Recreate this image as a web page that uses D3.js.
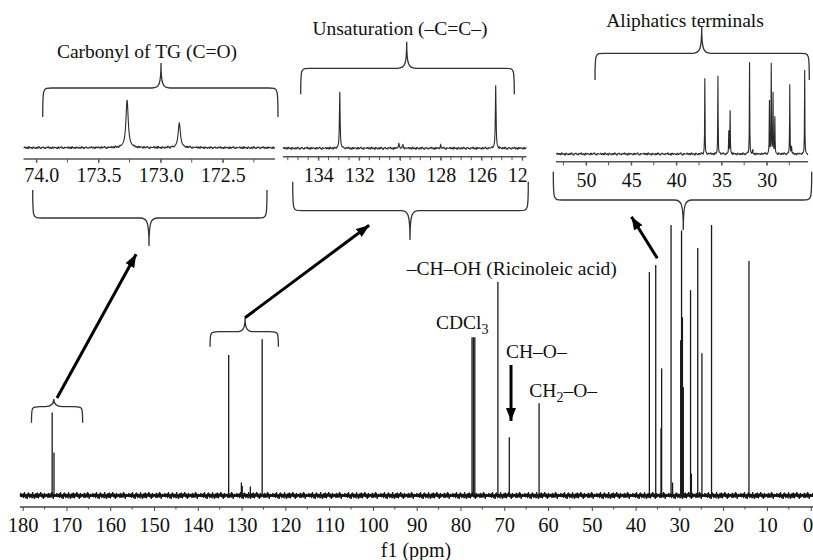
<!DOCTYPE html>
<html><head><meta charset="utf-8">
<script src="https://cdn.jsdelivr.net/npm/d3@7"></script>
<style>
body{margin:0;background:#fff}
svg text{font-family:'Liberation Serif','Times New Roman',Times,'DejaVu Serif',serif !important;fill:#111}
</style>
</head><body>
<svg id="c" width="813" height="560"></svg>
<script>
// ---------------- DATA ----------------
const peakPpm = [173.27,172.85,132.95,130.05,129.85,128.0,125.3,77.36,77.04,76.72,71.45,68.85,62.05,
  36.85,35.4,34.2,34.05,31.9,31.55,29.7,29.5,29.3,29.1,27.45,27.25,25.8,24.85,22.65,14.1];
const peakIntensity = [30.7,15.9,51.9,4.8,3.5,3.3,57.8,58.5,58.5,58.5,78.9,21.5,34.1,
  82.6,85.2,24.8,47,100,4.8,57.4,98,65.9,40,75.9,8.1,91.5,52.6,100,86.7];
const mainTickLabels = [180,170,160,150,140,130,120,110,100,90,80,70,60,50,40,30,20,10,0];
const insetTitles = ["Carbonyl of TG (C=O)", "Unsaturation (\u2013C=C\u2013)", "Aliphatics terminals"];
const insetDomains = [[174.105,172.08],[135.75,123.78],[53.32,25.4]];
const inset1TickLabels = [174.0,173.5,173.0,172.5];
const inset2TickLabels = [134,132,130,128,126,124];
const inset3TickLabels = [50,45,40,35,30];
const insetMinorStep = [0.25,0.5,2.5];
const xLabel = "f1 (ppm)";

// ---------------- LAYOUT / STYLE ----------------
const svg = d3.select("#c");
const FONT = "'Liberation Serif','Times New Roman',Times,'DejaVu Serif',serif";
const x = d3.scaleLinear().domain([180,0]).range([22.7,810.7]);
const y = d3.scaleLinear().domain([0,100]).range([495.5,225]);
const axisY = 507;

const defs = svg.append("defs");
// baseline-noise texture (pixel offsets, style only)
const noiseTexture = [0,-3,2,-2,3,-4,1,-1,4,-3,0,3,-2,2,-4,0,4,-1,-3,1,3,-2,0,-4,2,-1,4,-3,1,-2,0,3,-3,2,-1,-4,1,4,-2,0];
const nT = noiseTexture.length;

const mk = defs.append("marker").attr("id","ah").attr("markerUnits","userSpaceOnUse")
  .attr("viewBox","0 -5 13 10").attr("refX",13).attr("refY",0)
  .attr("markerWidth",13).attr("markerHeight",10).attr("orient","auto");
mk.append("path").attr("d","M0,-5L13,0L0,5Z").attr("fill","#000");

// ---------------- MAIN SPECTRUM ----------------
const noiseX = d3.range(20, 813, 0.9);
svg.append("path").attr("fill","none").attr("stroke","#111").attr("stroke-width",1)
  .attr("d", d3.line().x(d=>d).y((d,i)=>y(0)+noiseTexture[i%nT]*0.85)(noiseX));
svg.append("path").attr("fill","none").attr("stroke","#111").attr("stroke-width",1)
  .attr("d", d3.line().x(d=>d+0.45).y((d,i)=>y(0)-noiseTexture[(i*7+3)%nT]*0.7)(noiseX));
svg.append("line").attr("x1",20).attr("x2",813).attr("y1",y(0)).attr("y2",y(0))
  .attr("stroke","#111").attr("stroke-width",2.6);
svg.append("g").selectAll("line").data(peakPpm).join("line")
  .attr("x1",d=>x(d)).attr("x2",d=>x(d))
  .attr("y1",y(0)).attr("y2",(d,i)=>y(peakIntensity[i]))
  .attr("stroke","#1a1a1a").attr("stroke-width",1.3);

// main axis
svg.append("line").attr("x1",20).attr("x2",813).attr("y1",axisY).attr("y2",axisY)
  .attr("stroke","#444").attr("stroke-width",1.3);
const gx = svg.append("g").attr("transform",`translate(0,${axisY})`)
  .call(d3.axisBottom(x).tickValues(mainTickLabels).tickSize(4).tickSizeOuter(0).tickPadding(6).tickFormat(d3.format("d")));
gx.select(".domain").remove();
gx.attr("font-family",FONT);
gx.selectAll("line").attr("stroke","#444");
gx.selectAll("text").attr("font-size",20.5).attr("fill","#111")
  .attr("dx",d=>d===0?-3:0);
svg.append("g").attr("transform",`translate(0,${axisY})`).selectAll("line")
  .data(d3.range(5,180,10)).join("line")
  .attr("x1",d=>x(d)).attr("x2",d=>x(d)).attr("y1",0).attr("y2",2.5).attr("stroke","#444");
svg.append("text").attr("x",416).attr("y",556.5).attr("text-anchor","middle")
  .attr("font-size",20).text(xLabel);

// ---------------- INSETS ----------------
const insetLayout = [
  {r:[23.3,275], axisY:159, base:147.7, H:155.4, hw:0.011, pad:5, fmt:".1f", labels:inset1TickLabels},
  {r:[282.7,526.7], axisY:156.7, base:148.3, H:109, hw:0.02, pad:7, fmt:"d", labels:inset2TickLabels},
  {r:[556,808.3], axisY:161.7, base:154, H:91.7, hw:0.022, pad:7, fmt:"d", labels:inset3TickLabels}
];
insetLayout.forEach((L,k)=>{
  const dom = insetDomains[k];
  const ix = d3.scaleLinear().domain(dom).range(L.r);
  const iy = d3.scaleLinear().domain([0,100]).range([L.base, L.base - L.H]);
  const cid = "clip"+k;
  defs.append("clipPath").attr("id",cid).append("rect")
    .attr("x",L.r[0]).attr("y",0).attr("width",L.r[1]-L.r[0]).attr("height",200);
  const g = svg.append("g").attr("clip-path",`url(#${cid})`);
  let pts = d3.range(0,701).map(i => dom[0] + (dom[1]-dom[0])*i/700);
  peakPpm.forEach(p=>{ if (p<=dom[0] && p>=dom[1]) { pts.push(p); } });
  pts.sort((a,b)=>b-a);
  const spec = pts.map(p => {
    let s = 0;
    peakPpm.forEach((q,i)=>{ const d=p-q; s += peakIntensity[i]*L.hw*L.hw/(d*d+L.hw*L.hw); });
    return [p, s];
  });
  g.append("path").attr("fill","none").attr("stroke","#2a2a2a").attr("stroke-width",1.1)
    .attr("d", d3.line().x(d=>ix(d[0])).y((d,i)=>iy(d[1]) + (d[1]<1.5 ? noiseTexture[Math.floor(i/3)%nT]*0.22 : 0))(spec));
  g.append("line").attr("x1",L.r[0]).attr("x2",L.r[1]).attr("y1",L.axisY).attr("y2",L.axisY)
    .attr("stroke","#555").attr("stroke-width",1.6);
  const minor = d3.range(Math.ceil(dom[1]/insetMinorStep[k])*insetMinorStep[k], dom[0], insetMinorStep[k]);
  g.append("g").selectAll("line").data(minor).join("line")
    .attr("x1",d=>ix(d)).attr("x2",d=>ix(d)).attr("y1",L.axisY).attr("y2",L.axisY+3.5)
    .attr("stroke","#555");
  const ga = g.append("g").attr("transform",`translate(0,${L.axisY})`)
    .call(d3.axisBottom(ix).tickValues(L.labels).tickSize(4).tickSizeOuter(0).tickPadding(L.pad).tickFormat(d3.format(L.fmt)));
  ga.select(".domain").remove();
  ga.attr("font-family",FONT);
  ga.selectAll("line").attr("stroke","#555");
  ga.selectAll("text").attr("font-size",20).attr("fill","#111");
});

// ---------------- ANNOTATIONS ----------------
function brace(x1,x2,xm,yEnd,yH,yTip){
  const r = Math.min(9,(x2-x1)/6), d = yTip<yH?-1:1;
  return `M${x1},${yEnd} C${x1},${yH} ${x1},${yH} ${x1+r},${yH} L${xm-r},${yH} `+
    `C${xm-2},${yH} ${xm},${yH+d*3} ${xm},${yTip} C${xm},${yH+d*3} ${xm+2},${yH} ${xm+r},${yH} `+
    `L${x2-r},${yH} C${x2},${yH} ${x2},${yH} ${x2},${yEnd}`;
}
const braces = [
  [42.7,278,161,117,88,63],[32.7,267,149,190,218,246],
  [300.7,514.3,406.7,94.3,68.3,41.7],[292.7,528.3,410,181.7,210.7,240],
  [595,809.3,701.7,80,53.3,26.7],[553.3,811.7,683.3,171.7,200,230],
  [x(178),x(166.3),x(172.9),422.7,406.7,399],[x(137.2),x(121.6),x(129.2),346.7,331.7,317.7]
];
svg.append("g").selectAll("path").data(braces).join("path")
  .attr("d",d=>brace(...d)).attr("fill","none").attr("stroke","#333").attr("stroke-width",1.3);

const titlePos = [[147,58.3],[400,35],[685,27.3]];
svg.append("g").selectAll("text").data(insetTitles).join("text")
  .attr("x",(d,i)=>titlePos[i][0]).attr("y",(d,i)=>titlePos[i][1])
  .attr("text-anchor","middle").attr("font-size",19.5).attr("font-family",FONT).text(d=>d);

const arrows = [[57,398,139,249],[245,317.7,374,221.7],[657.3,258.3,628.3,211.7],[511,365,511,427]];
svg.append("g").selectAll("line").data(arrows).join("line")
  .attr("x1",d=>d[0]).attr("y1",d=>d[1])
  .attr("x2",d=>{const L=Math.hypot(d[2]-d[0],d[3]-d[1]);return d[2]-(d[2]-d[0])/L*6;})
  .attr("y2",d=>{const L=Math.hypot(d[2]-d[0],d[3]-d[1]);return d[3]-(d[3]-d[1])/L*6;})
  .attr("stroke","#000").attr("stroke-width",3).attr("marker-end","url(#ah)");

const ann = svg.append("g").attr("font-family",FONT).attr("font-size",19.5);
ann.append("text").attr("x",406.7).attr("y",275).text("\u2013CH\u2013OH (Ricinoleic acid)");
const cd = ann.append("text").attr("x",436).attr("y",329);
cd.append("tspan").text("CDCl");
cd.append("tspan").attr("font-size",14).attr("dy",5).text("3");
ann.append("text").attr("x",506).attr("y",357.7).text("CH\u2013O\u2013");
const ch2 = ann.append("text").attr("x",529.3).attr("y",396.7);
ch2.append("tspan").text("CH");
ch2.append("tspan").attr("font-size",14).attr("dy",5).text("2");
ch2.append("tspan").attr("dy",-5).text("\u2013O\u2013");
</script>
</body></html>
